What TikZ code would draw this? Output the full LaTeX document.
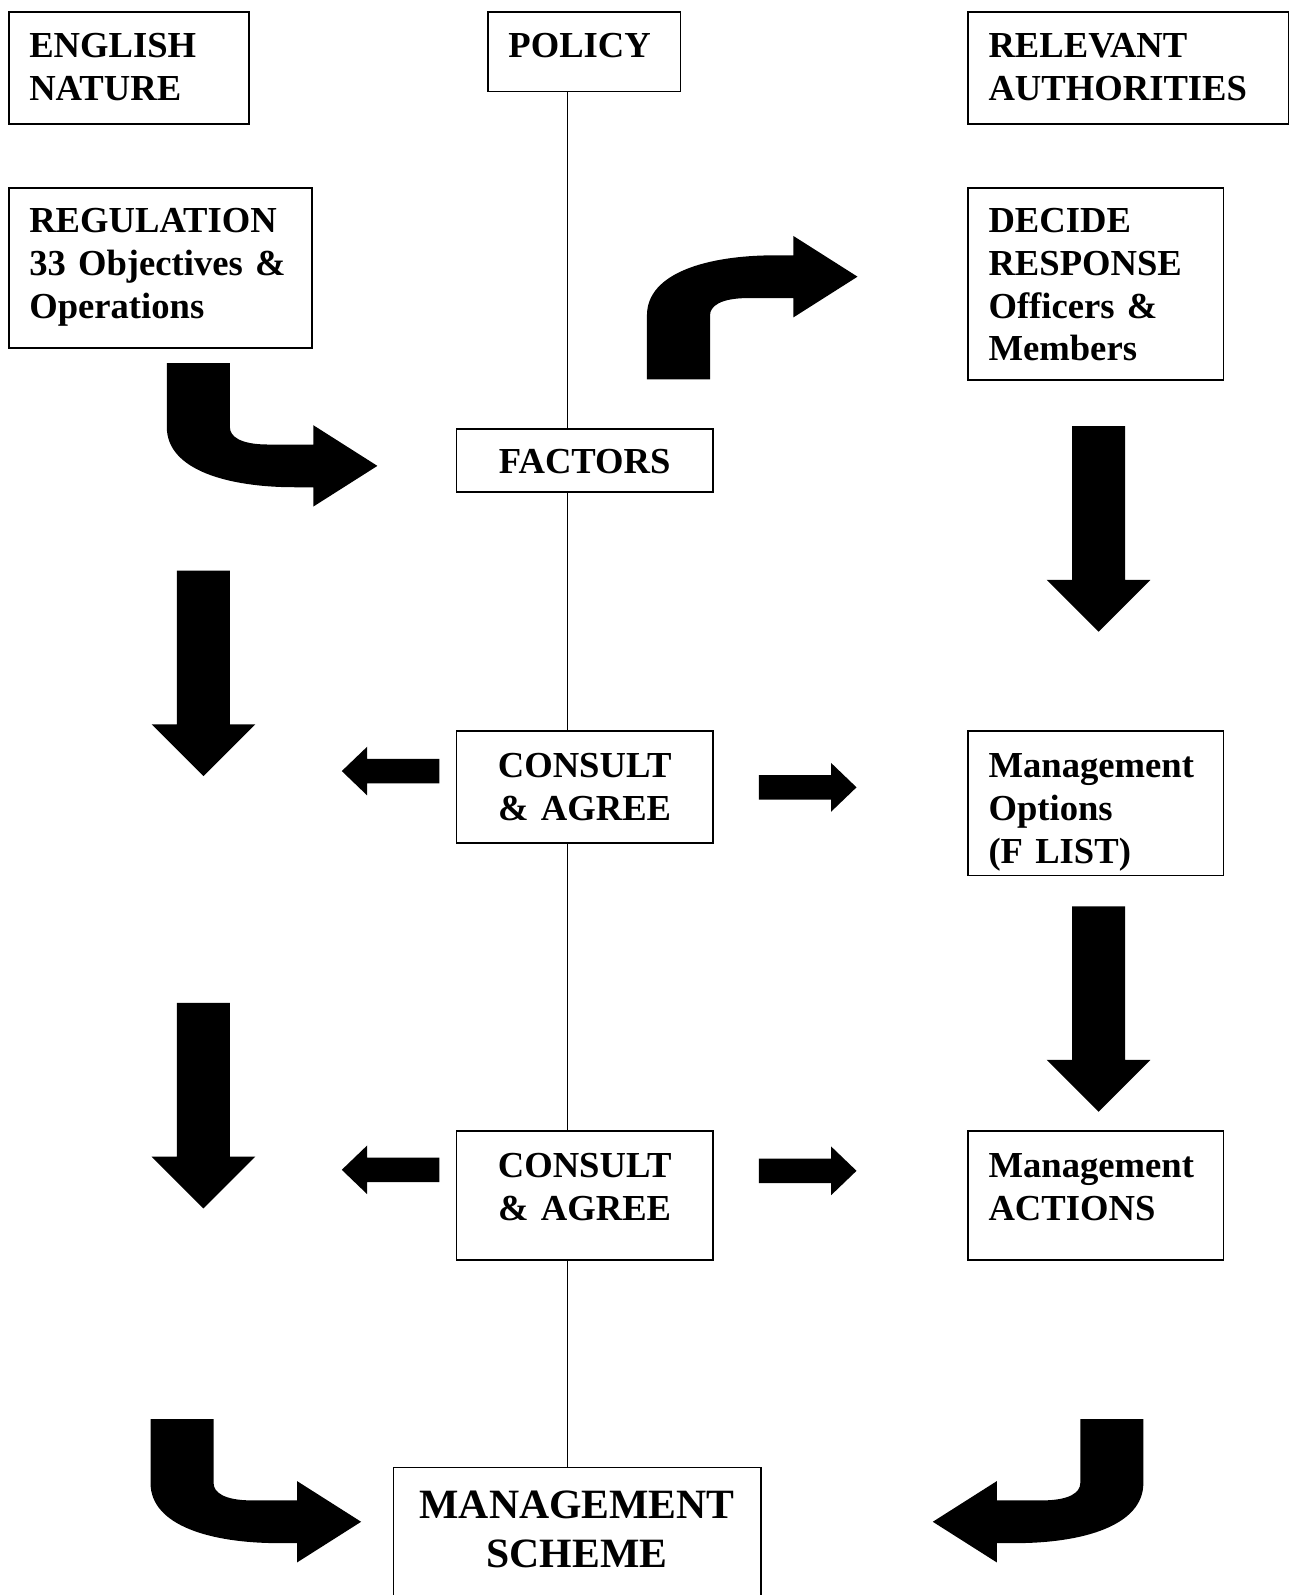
\documentclass[tikz,border=0pt]{standalone}
\usepackage{fontspec}
\setmainfont{Liberation Serif}
\usepackage{tikz}
\usetikzlibrary{positioning,backgrounds}

\tikzset{
  box/.style={draw,line width=0.8pt,fill=white,anchor=north west,inner xsep=10pt,inner ysep=0pt,
    align=left,font=\bfseries\fontsize{18}{21}\selectfont},
  blk/.style={fill=black},
  bentblk/.pic={\fill[blk] (0,0) -- (62,0) -- (62,63) .. controls (62,72) and (72,80) .. (100,80)
    -- (144,80) -- (144,61) -- (207,101) -- (144,141) -- (144,122) -- (126,122)
    .. controls (60,122) and (0,105) .. (0,63) -- cycle;},
  downblk/.pic={\fill[blk] (-26,0) -- (26,0) -- (26,151) -- (51,151) -- (0,202) -- (-51,151) -- (-26,151) -- cycle;},
  sideblk/.pic={\fill[blk] (0,-12) -- (71,-12) -- (71,-24) -- (96,0) -- (71,24) -- (71,12) -- (0,12) -- cycle;}
}

\begin{document}
\begin{tikzpicture}[x=0.5pt,y=-0.5pt]
\useasboundingbox (0,0) rectangle (1267,1568);
% left column
\node[box,text width=98pt,text height=22.5pt,text depth=32.5pt] (en) at (8,11) {ENGLISH\\NATURE};
\node[box,text width=129pt,text height=22pt,text depth=56.5pt] (reg) at (8,184) {REGULATION\\33 Objectives \&\\Operations};
% policy column
\node[box,text width=74.5pt,text height=22.5pt,text depth=16.5pt] (policy) at (479,11) {POLICY};
\node[box,align=center,text width=106pt,text height=22pt,text depth=9pt] (factors) at (448,421) {FACTORS};
\node[box,align=center,text width=106pt,text height=23pt,text depth=32pt] (consultA) at (448,718) {CONSULT\\\& AGREE};
\node[box,align=center,text width=106pt,text height=23pt,text depth=40.5pt] (consultB) at (448,1111) {CONSULT\\\& AGREE};
\node[box,align=center,text width=160.5pt,text height=24.75pt,text depth=40.25pt,
  font=\bfseries\fontsize{20.5}{24.5}\selectfont] (scheme) at (386,1442) {MANAGEMENT\\SCHEME};
% right column
\node[box,text width=137.5pt,text height=22.5pt,text depth=32.5pt] (ra) at (951,11) {RELEVANT\\AUTHORITIES};
\node[box,text width=105.5pt,text height=22pt,text depth=72.5pt] (decide) at (951,184) {DECIDE\\RESPONSE\\Officers \&\\Members};
\node[box,text width=105.5pt,text height=23pt,text depth=48pt] (opts) at (951,718) {Management\\Options\\(F LIST)};
\node[box,text width=105.5pt,text height=23pt,text depth=40.5pt] (actions) at (951,1111) {Management\\ACTIONS};

\coordinate (spine) at (558,0);
\begin{scope}[on background layer]
\draw[line width=0.6pt] (policy.south -| spine) -- (scheme.north -| spine);
\end{scope}

% block arrows
\pic at (164,357) {bentblk};
\pic[yscale=-1] at (636,373) {bentblk};
\pic at (148,1395) {bentblk};
\pic[xscale=-1] at (1124,1395) {bentblk};
\pic at (200,561) {downblk};
\pic at (200,986) {downblk};
\pic at (1080,419) {downblk};
\pic at (1080,891) {downblk};
\pic[xscale=-1] at (432,758) {sideblk};
\pic at (746,774) {sideblk};
\pic[xscale=-1] at (432,1150) {sideblk};
\pic at (746,1151) {sideblk};
\end{tikzpicture}
\end{document}
